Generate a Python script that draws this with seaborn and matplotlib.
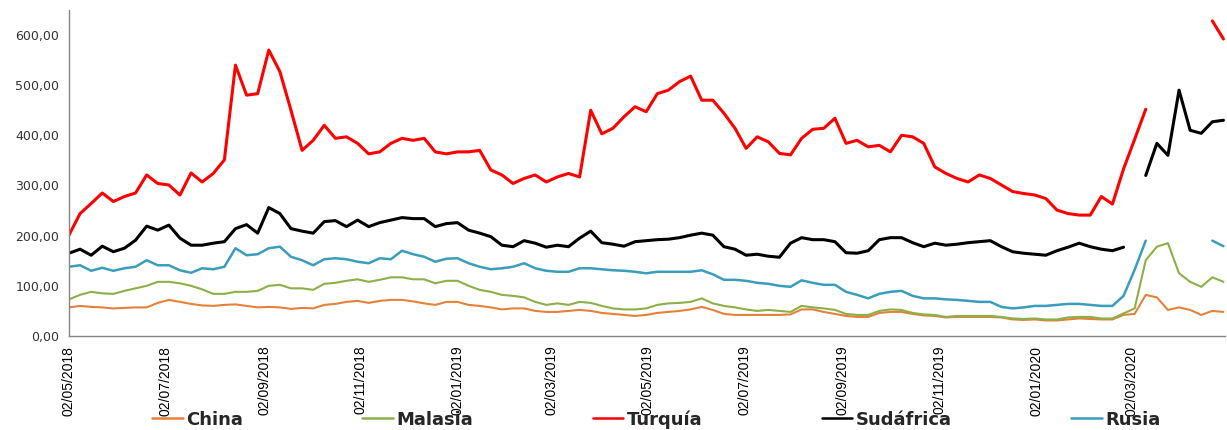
import numpy as np
import pandas as pd
import matplotlib
matplotlib.use('Agg')
import matplotlib.pyplot as plt
from matplotlib.lines import Line2D
import seaborn as sns

nan = np.nan

# fechas semanales (miércoles) desde 02/05/2018
fechas = pd.date_range('2018-05-02', periods=105, freq='7D')

china = [57, 60, 58, 57, 55, 56, 57, 57, 66, 72,
         68, 64, 61, 60, 62, 63, 60, 57, 58, 57,
         54, 56, 55, 62, 64, 68, 70, 66, 70, 72,
         72, 69, 65, 62, 68, 68, 62, 60, 57, 53,
         55, 55, 50, 48, 48, 50, 52, 50, 46, 44,
         42, 40, 42, 46, 48, 50, 53, 58, 52, 44,
         42, 42, 42, 42, 42, 43, 53, 53, 48, 44,
         40, 38, 38, 46, 48, 48, 44, 41, 40, 37,
         38, 38, 38, 38, 37, 33, 32, 33, 31, 31,
         33, 35, 34, 33, 33, 42, 44, 82, 77, 52,
         57, 52, 42, 50, 48]

malasia = [73, 82, 88, 85, 84, 90, 95, 100, 108, 108,
           105, 100, 93, 84, 84, 88, 88, 90, 100, 102,
           95, 95, 92, 104, 106, 110, 113, 108, 112, 117,
           117, 113, 113, 105, 110, 110, 100, 92, 88, 82,
           80, 77, 68, 62, 65, 62, 68, 66, 60, 55,
           53, 53, 55, 62, 65, 66, 68, 75, 65, 60,
           57, 53, 50, 52, 50, 48, 60, 57, 55, 52,
           44, 42, 42, 50, 53, 52, 46, 43, 42, 38,
           40, 40, 40, 40, 38, 35, 34, 35, 33, 33,
           37, 38, 38, 35, 35, 45, 55, 151, 178, 185,
           125, 108, 98, 117, 108]

turquia = [201, 244, 264, 285, 268, 278, 285, 321, 304, 301,
           281, 325, 307, 324, 351, 540, 480, 483, 570, 527,
           450, 370, 390, 420, 394, 397, 384, 363, 367, 384,
           394, 390, 394, 367, 363, 367, 367, 370, 331, 321,
           304, 314, 321, 307, 317, 324, 317, 450, 403, 414,
           437, 457, 447, 483, 490, 507, 518, 470, 470, 444,
           414, 374, 397, 387, 364, 361, 394, 412, 414, 434,
           384, 390, 377, 380, 367, 400, 397, 384, 337, 324,
           314, 307, 321, 314, 301, 288, 284, 281, 274, 251,
           244, 241, 241, 278, 263, 333, 392, 452, nan, nan,
           nan, nan, nan, 628, 592]

sudafrica = [165, 173, 161, 179, 168, 175, 191, 219, 211, 221,
             195, 181, 181, 185, 188, 214, 222, 205, 256, 244,
             214, 209, 205, 228, 230, 218, 231, 218, 226, 231,
             236, 234, 234, 218, 224, 226, 211, 205, 198, 181,
             178, 190, 185, 177, 181, 178, 195, 209, 186, 183,
             179, 188, 190, 192, 193, 196, 201, 205, 201, 178,
             173, 161, 163, 159, 157, 185, 196, 192, 192, 188,
             166, 165, 170, 192, 196, 196, 186, 178, 185, 181,
             183, 186, 188, 190, 178, 168, 165, 163, 161, 170,
             177, 185, 178, 173, 170, 177, nan, 320, 384, 360,
             490, 410, 404, 427, 430]

rusia = [138, 141, 130, 136, 130, 135, 138, 151, 141, 141,
         131, 126, 135, 133, 138, 175, 161, 163, 175, 178,
         158, 151, 141, 153, 155, 153, 148, 145, 155, 153,
         170, 163, 158, 148, 154, 155, 145, 138, 133, 135,
         138, 145, 135, 130, 128, 128, 135, 135, 133, 131,
         130, 128, 125, 128, 128, 128, 128, 131, 123, 112,
         112, 110, 106, 104, 100, 98, 111, 106, 102, 102,
         88, 82, 75, 84, 88, 90, 80, 75, 75, 73,
         72, 70, 68, 68, 58, 55, 57, 60, 60, 62,
         64, 64, 62, 60, 60, 80, 132, 190, nan, nan,
         nan, nan, nan, 190, 179]

paises = ['China', 'Malasia', 'Turquía', 'Sudáfrica', 'Rusia']
colores = ['#E5813A', '#8CAF4A', '#FF0000', '#000000', '#3A9DBB']
grosores = [1.5, 1.5, 2.2, 2.2, 1.8]

df = pd.DataFrame({'fecha': fechas, 'China': china, 'Malasia': malasia,
                   'Turquía': turquia, 'Sudáfrica': sudafrica, 'Rusia': rusia})

sns.set_style('white')
plt.rcParams['font.family'] = ['DejaVu Sans']

fig = plt.figure(figsize=(12.27, 4.30), dpi=100)
ax = fig.add_axes([0.0562, 0.2186, 0.9422, 0.7584])

# cada tramo sin huecos se dibuja por separado (units)
for pais, color, lw in zip(paises, colores, grosores):
    d = df[['fecha', pais]].rename(columns={pais: 'valor'})
    d['tramo'] = d['valor'].isna().cumsum()
    d = d.dropna()
    sns.lineplot(data=d, x='fecha', y='valor', units='tramo', estimator=None,
                 color=color, linewidth=lw, ax=ax, legend=False)

ax.set_xlim(pd.Timestamp('2018-05-02'), pd.Timestamp('2020-04-30'))
ax.set_ylim(0, 650)
ax.set_yticks(range(0, 700, 100))
ax.set_yticklabels([f'{v:.2f}'.replace('.', ',') for v in range(0, 700, 100)],
                   fontsize=9, color='#333333')

ticks = pd.date_range('2018-05-01', periods=12, freq='2MS') + pd.Timedelta(days=1)
ax.set_xticks(ticks)
ax.set_xticklabels([t.strftime('%d/%m/%Y') for t in ticks], rotation=90,
                   family=['Liberation Sans', 'DejaVu Sans'], fontsize=10,
                   color='#000000')
ax.set_xlabel('')
ax.set_ylabel('')

for s in ['top', 'right']:
    ax.spines[s].set_visible(False)
for s in ['left', 'bottom']:
    ax.spines[s].set_color('#868686')
    ax.spines[s].set_linewidth(1.0)
ax.tick_params(axis='both', length=4, width=1, color='#868686', pad=3)
ax.grid(False)

handles = [Line2D([], [], color=c, linewidth=1.8) for c in colores]
fig.legend(handles, paises, loc='lower center', bbox_to_anchor=(0.535, -0.035),
           ncol=5, frameon=False, handlelength=1.7, handletextpad=0.2,
           columnspacing=6.6, prop={'weight': 'bold', 'size': 13})

fig.savefig('out.png', dpi=100)
